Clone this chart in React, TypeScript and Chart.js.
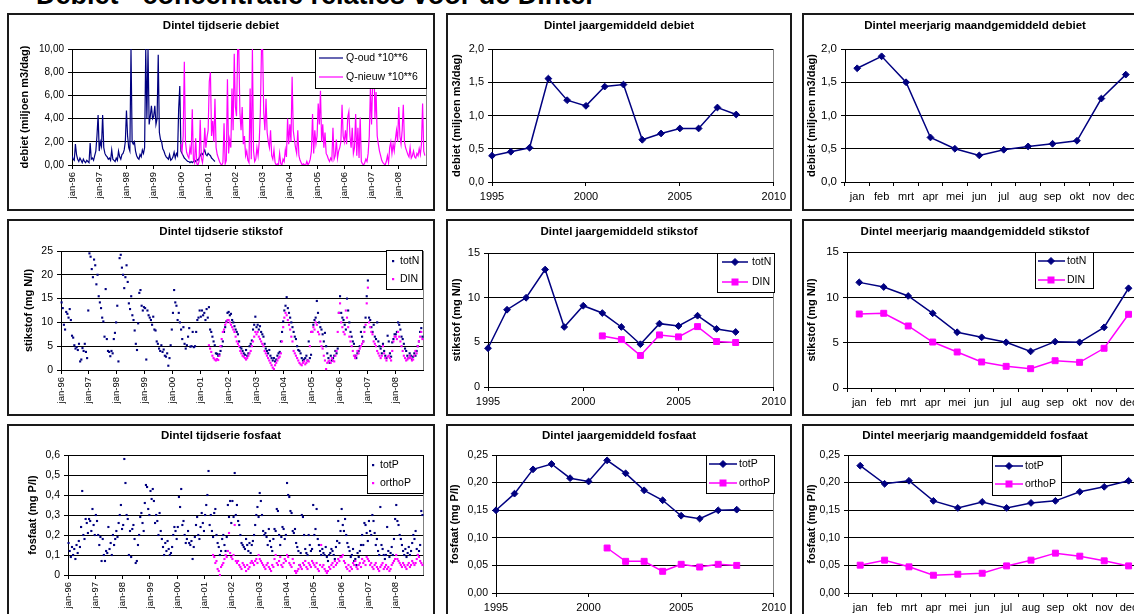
import React, { useEffect, useRef } from 'react';
import { Chart, registerables } from 'chart.js';

Chart.register(...registerables);

const FONT = '"Liberation Sans", Arial, Helvetica, sans-serif';
const NAVY = '#000080';
const MAGENTA = '#FF00FF';
Chart.defaults.font.family = FONT;
Chart.defaults.color = '#000';

// ---------------- categories / tick labels ----------------
const monthLabels = ['jan', 'feb', 'mrt', 'apr', 'mei', 'jun', 'jul', 'aug', 'sep', 'okt', 'nov', 'dec'];
const meanYears = [1995, 1996, 1997, 1998, 1999, 2000, 2001, 2002, 2003, 2004, 2005, 2006, 2007, 2008];

// ---------------- yearly means ----------------
const debietJaar = [0.395, 0.455, 0.515, 1.555, 1.23, 1.145, 1.435, 1.465, 0.635, 0.73, 0.805, 0.805, 1.12, 1.015];
const totNJaar = [4.34, 8.65, 9.99, 13.15, 6.72, 9.1, 8.28, 6.72, 4.79, 7.09, 6.83, 7.98, 6.5, 6.16];
const dinJaar = [null, null, null, null, null, null, 5.72, 5.31, 3.53, 5.83, 5.61, 6.76, 5.09, 4.98];
const totPJaar = [0.1498, 0.18, 0.224, 0.2337, 0.208, 0.202, 0.2403, 0.2168, 0.186, 0.168, 0.14, 0.1347, 0.1498, 0.151];
const orthoPJaar = [null, null, null, null, null, null, 0.0815, 0.0574, 0.0574, 0.0393, 0.052, 0.047, 0.052, 0.05];

// ---------------- multi-year monthly means ----------------
const debietMaand = [1.71, 1.89, 1.5, 0.67, 0.5, 0.4, 0.485, 0.535, 0.575, 0.62, 1.255, 1.615];
const totNMaand = [11.65, 11.14, 10.15, 8.24, 6.15, 5.59, 5.04, 4.04, 5.11, 5.04, 6.69, 11.0];
const dinMaand = [8.16, 8.24, 6.84, 5.07, 3.97, 2.87, 2.39, 2.13, 3.01, 2.83, 4.38, 8.13];
const totPMaand = [0.2306, 0.1978, 0.2033, 0.1669, 0.1541, 0.165, 0.1541, 0.1632, 0.1669, 0.1833, 0.1924, 0.2033];
const orthoPMaand = [0.0504, 0.0595, 0.0474, 0.0322, 0.034, 0.0358, 0.0491, 0.0595, 0.0722, 0.0667, 0.0583, 0.0491];

// ---------------- debiet time series (half-monthly readings, 10^6 m3/dag) ----------------
const qOud1996 = [0.8, 0.5, 0.4, 1.8, 0.9, 0.5, 0.3, 0.6, 0.4, 0.2, 0.5, 0.3, 0.2, 0.4, 0.3, 0.2, 1.9, 0.5, 0.6, 0.4, 0.8, 1.2, 2.5, 4.3];
const qOud1997 = [1.2, 2.0, 1.6, 4.3, 1.5, 1.0, 0.8, 0.7, 0.5, 0.6, 0.4, 1.3, 0.5, 0.4, 0.3, 0.6, 0.4, 1.2, 0.7, 0.5, 0.9, 1.0, 1.3, 2.0];
const qOud1998 = [4.7, 2.5, 1.5, 1.2, 10.0, 2.0, 1.8, 2.0, 1.2, 0.8, 0.6, 0.5, 0.9, 0.7, 1.3, 1.0, 1.5, 10.0, 4.0, 10.0, 3.5, 4.2, 5.1, 4.0];
const qOud1999 = [4.2, 5.1, 3.5, 4.0, 9.5, 2.8, 2.2, 2.0, 1.4, 1.2, 0.9, 0.7, 0.6, 0.5, 0.9, 0.4, 0.5, 0.7, 1.1, 0.6, 1.0, 0.8, 4.8, 6.8];
const qOud2000 = [1.2, 1.0, 0.8, 0.6, 0.5, 0.4, 0.3, 0.3, 0.2, 0.3, 0.2, 0.3, 0.4, 0.3, 0.5, 0.4, 0.6, 0.8, 1.0, 0.9, 1.1, 1.3, 0.9, 0.8];
const qOud2001 = [1.0, 0.9, 0.8, 0.6, 0.5, 0.4, 0.3];
const qNieuw2000 = [1.8, 1.2, 2.5, 8.9, 2.0, 1.1, 0.8, 0.6, 1.5, 0.9, 4.8, 0.5, 0.2, 2.3, 0.1, 0.0, 0.3, 3.9, 0.6, 0.2, 1.0, 3.2, 1.5, 2.4];
const qNieuw2001 = [3.0, 7.2, 8.0, 2.5, 3.8, 2.0, 5.7, 1.5, 0.9, 0.6, 0.3, 0.1, 0.0, 0.2, 3.6, 0.1, 0.4, 7.4, 1.0, 2.2, 1.5, 6.6, 3.0, 9.6];
const qNieuw2002 = [5.0, 4.2, 10.0, 10.0, 4.5, 3.0, 5.0, 1.8, 2.5, 0.8, 1.2, 0.4, 0.2, 6.6, 0.5, 10.0, 1.2, 0.3, 0.5, 1.5, 0.8, 2.0, 4.5, 10.0];
const qNieuw2003 = [10.0, 4.5, 3.0, 5.7, 2.8, 2.0, 1.5, 3.0, 0.8, 0.5, 1.3, 0.2, 0.0, 0.1, 0.0, 1.0, 0.1, 0.0, 0.5, 0.3, 1.3, 0.7, 4.0, 1.8];
const qNieuw2004 = [3.5, 2.0, 7.6, 3.0, 2.2, 1.5, 1.0, 3.0, 0.8, 0.4, 0.2, 0.0, 0.1, 0.0, 0.0, 0.3, 0.0, 0.2, 0.5, 1.2, 4.4, 1.0, 3.0, 1.8];
const qNieuw2005 = [2.5, 5.3, 3.5, 6.4, 2.0, 3.5, 1.5, 2.8, 1.0, 0.8, 0.5, 0.3, 0.6, 0.4, 3.2, 0.5, 0.8, 2.2, 0.6, 1.2, 1.5, 2.0, 5.2, 2.5];
const qNieuw2006 = [2.0, 3.0, 1.8, 4.1, 4.6, 2.5, 1.5, 3.2, 1.0, 1.5, 4.4, 0.8, 3.2, 0.6, 4.1, 0.3, 0.1, 0.0, 0.2, 0.5, 0.3, 1.0, 2.5, 6.6];
const qNieuw2007 = [3.5, 7.2, 10.0, 4.0, 6.3, 2.5, 1.8, 1.2, 0.8, 0.4, 0.2, 0.1, 0.0, 0.3, 0.8, 0.2, 1.5, 2.0, 1.0, 1.8, 1.2, 2.2, 3.0, 2.0];
const qNieuw2008 = [5.0, 2.5, 1.8, 3.0, 5.2, 2.0, 1.5, 1.2, 0.9, 0.7, 1.5, 0.6, 0.8, 1.2, 0.7, 0.6, 1.0, 0.8, 1.4, 0.9, 1.8, 5.3, 1.2, 0.8];

// ---------------- stikstof time series (mg N/l) ----------------
const totN1996 = [14.2, 13, 9.5, 8.5, 12.2, 11.8, 11, 12.8, 10.5, 7.2, 6.8, 5.2, 4.5, 4.8, 4.2, 5.5, 1.8, 2.2, 4.6, 4.0, 5.5, 3.8, 2.5, 12.5];
const totN1997 = [24.5, 23.8, 21.2, 19.5, 23.2, 22, 18, 20, 15.5, 14.2, 13, 11, 10.2, 7, 17, 6.5, 4, 3.8, 2.9, 4, 3.5, 6.5, 7.8, 10];
const totN1998 = [13.5, 1.8, 23.5, 24.2, 21.5, 20, 17.2, 19.5, 22, 18.5, 14, 12.8, 15.5, 11.5, 10.5, 8.3, 5.5, 4.2, 9.8, 16.2, 16.8, 13.5, 12.5, 13.2];
const totN1999 = [13, 2.2, 12.5, 11.5, 11, 10.5, 9.5, 11.2, 8.5, 8.3, 6, 5.5, 4.5, 4, 5.2, 3.8, 4.3, 3, 2.8, 3.5, 0.9, 2.5, 5.2, 8.5];
const totN2000 = [12, 16.8, 14.2, 13.5, 10.5, 12, 10, 8.5, 6.5, 9, 5.5, 4.5, 5.2, 7, 8.8, 4.9, 5, 8, 4.8, 5, 8, 10.5, 11, 12.5];
const totN2001 = [11.2, 12.5, 11.5, 12, 10.5, 12.8, 11, 13.2, 8.5, 8, 7, 6, 5.2, 3.5, 3.4, 3, 3.3, 4, 5, 6, 8, 9, 10.2, 12];
const totN2002 = [12.2, 11.5, 11.8, 10.5, 10, 9.2, 8.5, 8, 7.5, 6, 4.8, 4.5, 4, 3.5, 3.2, 4.2, 3, 3.5, 5, 5.5, 6.2, 8.5, 9.5, 11.2];
const totN2003 = [9, 9.5, 8.5, 9.2, 8, 7.5, 7, 5.5, 4.5, 4, 3.5, 4.2, 3, 2.5, 2, 2.5, 1.8, 2.2, 3, 3.5, 3.8, 6, 8, 10.2];
const totN2004 = [12.5, 13.5, 15.3, 13, 12, 11, 10, 9, 8, 7, 6.5, 5, 4.2, 4, 3.5, 2.5, 2, 2.2, 2.5, 3, 2, 6, 2.5, 3.2];
const totN2005 = [8, 9.5, 10.5, 11, 14.5, 12, 10, 9, 8.5, 7.5, 6, 7.8, 5, 3.5, 2.5, 1.5, 3, 2, 2.5, 3, 4, 3.5, 4.5, 12];
const totN2006 = [15.5, 12, 11, 10.5, 9.5, 8.5, 15, 12.5, 10, 8, 7, 6, 5.5, 3, 2.5, 3.5, 4, 5, 8, 7, 6, 9, 11, 15.5];
const totN2007 = [18.8, 11, 10.5, 9, 8, 9.5, 7, 6.5, 10, 6, 5, 4.5, 3.5, 5.5, 4, 3, 2.5, 7.2, 6, 3.5, 2.8, 5.8, 6.5, 7.5];
const totN2008 = [7.5, 8, 10, 9.5, 8.5, 7, 6.5, 5.5, 4.5, 4, 3, 2.5, 3.5, 3, 2.2, 2.8, 3.5, 3, 4, 5, 6, 8, 8.8, 7];
const din2001 = [null, null, null, null, null, null, null, 5.2, 4.5, 3.8, 3, 2.5, 2.2, 2, 2.3, 2.1, 3, 5, 6.5, 8, 8.5, 9.5, 10, 10.5];
const din2002 = [10.5, 10, 9.5, 9, 8.5, 8, 7, 6, 5.5, 5, 4, 3.5, 3, 2.8, 2.5, 2.2, 2.5, 3, 3.5, 4, 5, 6, 7, 8];
const din2003 = [7.5, 8, 7, 6.5, 6, 5.5, 5, 4, 3.5, 3, 2.5, 2, 1.5, 1, 0.5, 0.2, 1, 1.5, 2, 2.5, 2.8, 3.5, 6, 9];
const din2004 = [11, 12, 11.5, 10.5, 9.5, 8.5, 7, 6, 4, 3.5, 3, 2.5, 2, 1.5, 1.2, 1, 1.5, 1.8, 1.2, 1.5, 2, 1.8, 5, 8];
const din2005 = [8, 9, 8.5, 10, 9.5, 8, 7.5, 6, 5, 4.5, 3, 2, 0.2, 1.5, 1.8, 2, 1.5, 2.5, 2, 1.8, 3, 4, 8, 12];
const din2006 = [14, 10, 9, 8, 7.5, 12.5, 11, 9, 7, 6, 5, 4, 3, 2.5, 3, 4, 3.5, 4.5, 5, 5.5, 6, 8, 9.5, 14];
const din2007 = [17.3, 10, 9, 8, 7.5, 6, 5.5, 5, 4, 3.5, 3, 2.5, 3, 5, 3.5, 2.5, 2, 2.8, 3, 2.5, 2, 4, 6, 7];
const din2008 = [7, 6.5, 8, 7, 6, 5, 4, 3, 2.5, 2, 2.2, 2.5, 3, 2.5, 2, 2.2, 3, 4, 3.5, 5, 6, 7, 8, 6.5];

// ---------------- fosfaat time series (mg P/l) ----------------
const totP1996 = [0.16, 0.12, 0.09, 0.14, 0.1, 0.13, 0.08, 0.15, 0.11, 0.17, 0.14, 0.24, 0.42, 0.2, 0.18, 0.28, 0.26, 0.21, 0.28, 0.27, 0.22, 0.33, 0.25, 0.2];
const totP1997 = [0.3, 0.27, 0.2, 0.15, 0.19, 0.07, 0.18, 0.1, 0.07, 0.12, 0.11, 0.24, 0.13, 0.16, 0.1, 0.2, 0.15, 0.18, 0.22, 0.19, 0.26, 0.3, 0.35, 0.23];
const totP1998 = [0.25, 0.58, 0.46, 0.3, 0.28, 0.1, 0.22, 0.09, 0.23, 0.25, 0.18, 0.06, 0.07, 0.15, 0.2, 0.29, 0.31, 0.26, 0.22, 0.36, 0.45, 0.44, 0.33, 0.3];
const totP1999 = [0.42, 0.38, 0.43, 0.37, 0.26, 0.3, 0.27, 0.2, 0.31, 0.22, 0.18, 0.14, 0.1, 0.16, 0.12, 0.17, 0.13, 0.1, 0.11, 0.14, 0.2, 0.24, 0.22, 0.18];
const totP2000 = [0.24, 0.39, 0.34, 0.43, 0.25, 0.27, 0.2, 0.16, 0.18, 0.22, 0.16, 0.15, 0.17, 0.08, 0.14, 0.19, 0.25, 0.29, 0.2, 0.18, 0.24, 0.31, 0.26, 0.22];
const totP2001 = [0.3, 0.35, 0.4, 0.52, 0.25, 0.3, 0.22, 0.19, 0.31, 0.33, 0.2, 0.16, 0.14, 0.1, 0.12, 0.18, 0.2, 0.15, 0.12, 0.19, 0.35, 0.29, 0.37, 0.26];
const totP2002 = [0.37, 0.29, 0.51, 0.3, 0.35, 0.27, 0.25, 0.2, 0.16, 0.15, 0.14, 0.13, 0.18, 0.15, 0.12, 0.16, 0.11, 0.15, 0.17, 0.2, 0.25, 0.3, 0.34, 0.29];
const totP2003 = [0.41, 0.37, 0.3, 0.22, 0.2, 0.21, 0.19, 0.15, 0.23, 0.17, 0.14, 0.12, 0.18, 0.23, 0.22, 0.33, 0.32, 0.2, 0.15, 0.19, 0.24, 0.23, 0.18, 0.2];
const totP2004 = [0.46, 0.4, 0.39, 0.32, 0.31, 0.22, 0.21, 0.23, 0.16, 0.14, 0.12, 0.05, 0.11, 0.3, 0.29, 0.2, 0.13, 0.11, 0.1, 0.2, 0.15, 0.12, 0.13, 0.35];
const totP2005 = [0.2, 0.23, 0.33, 0.18, 0.15, 0.12, 0.1, 0.13, 0.11, 0.1, 0.14, 0.09, 0.07, 0.1, 0.11, 0.13, 0.12, 0.1, 0.08, 0.14, 0.17, 0.27, 0.16, 0.22];
const totP2006 = [0.33, 0.25, 0.22, 0.28, 0.2, 0.16, 0.14, 0.12, 0.09, 0.1, 0.13, 0.07, 0.08, 0.05, 0.11, 0.09, 0.12, 0.15, 0.2, 0.15, 0.26, 0.25, 0.21, 0.17];
const totP2007 = [0.27, 0.22, 0.2, 0.3, 0.27, 0.21, 0.15, 0.18, 0.12, 0.1, 0.34, 0.15, 0.13, 0.1, 0.08, 0.1, 0.24, 0.12, 0.09, 0.11, 0.14, 0.1, 0.18, 0.28];
const totP2008 = [0.35, 0.27, 0.25, 0.2, 0.18, 0.15, 0.12, 0.1, 0.13, 0.09, 0.11, 0.14, 0.1, 0.12, 0.16, 0.2, 0.18, 0.22, 0.13, 0.1, 0.12, 0.15, 0.32, 0.3];
const orthoP2001 = [null, null, null, null, null, null, null, 0.1, 0.09, 0.06, 0.07, 0.03, 0.02, 0.0, 0.04, 0.05, 0.06, 0.08, 0.1, 0.09, 0.12, 0.21, 0.11, 0.09];
const orthoP2002 = [0.08, 0.1, 0.25, 0.07, 0.06, 0.07, 0.05, 0.04, 0.03, 0.06, 0.05, 0.04, 0.02, 0.05, 0.03, 0.04, 0.06, 0.07, 0.06, 0.05, 0.07, 0.08, 0.06, 0.1];
const orthoP2003 = [0.08, 0.07, 0.06, 0.05, 0.04, 0.03, 0.05, 0.06, 0.04, 0.03, 0.02, 0.05, 0.04, 0.08, 0.1, 0.06, 0.05, 0.07, 0.09, 0.05, 0.04, 0.06, 0.08, 0.07];
const orthoP2004 = [0.1, 0.09, 0.06, 0.05, 0.04, 0.08, 0.06, 0.02, 0.01, 0.02, 0.03, 0.05, 0.04, 0.03, 0.06, 0.05, 0.07, 0.04, 0.03, 0.06, 0.05, 0.04, 0.07, 0.06];
const orthoP2005 = [0.05, 0.04, 0.06, 0.03, 0.02, 0.05, 0.15, 0.04, 0.05, 0.03, 0.02, 0.01, 0.02, 0.04, 0.03, 0.05, 0.06, 0.04, 0.07, 0.05, 0.06, 0.08, 0.07, 0.09];
const orthoP2006 = [0.09, 0.1, 0.07, 0.06, 0.04, 0.03, 0.05, 0.02, 0.04, 0.03, 0.06, 0.05, 0.07, 0.04, 0.03, 0.05, 0.06, 0.04, 0.08, 0.06, 0.07, 0.05, 0.09, 0.08];
const orthoP2007 = [0.07, 0.05, 0.06, 0.04, 0.03, 0.05, 0.06, 0.04, 0.03, 0.02, 0.04, 0.05, 0.06, 0.03, 0.04, 0.05, 0.03, 0.04, 0.02, 0.03, 0.05, 0.06, 0.07, 0.08];
const orthoP2008 = [0.1, 0.08, 0.07, 0.06, 0.05, 0.04, 0.06, 0.05, 0.04, 0.03, 0.05, 0.06, 0.04, 0.05, 0.07, 0.06, 0.05, 0.06, 0.08, 0.1, 0.09, 0.07, 0.06, 0.05];

// ---------------- helpers ----------------
type Pt = { x: number; y: number };
function seriesFromYears(firstYear: number, yearsData: (number | null)[][], centre: number): Pt[] {
  const pts: Pt[] = [];
  yearsData.forEach((vals, k) => {
    vals.forEach((v, i) => {
      if (v !== null && v !== undefined) pts.push({ x: firstYear + k + (i + centre) / 24, y: v });
    });
  });
  return pts;
}
function yearPts(vals: (number | null)[]): Pt[] {
  const pts: Pt[] = [];
  meanYears.forEach((yr, i) => {
    const v = vals[i];
    if (v !== null && v !== undefined) pts.push({ x: yr, y: v });
  });
  return pts;
}

const fmt2 = (v: number) => v.toFixed(2).replace('.', ',');
const fmt1 = (v: number) => v.toFixed(1).replace('.', ',');
const fmt0 = (v: number) => String(Math.round(v));
const fmtP = (v: number) => (Math.abs(v) < 1e-9 ? '0' : v.toFixed(1).replace('.', ','));

// ---------------- plugins ----------------
const plotFrame = {
  id: 'plotFrame',
  beforeDatasetsDraw(chart: any) {
    const { ctx, chartArea: a } = chart;
    ctx.save();
    ctx.strokeStyle = '#808080';
    ctx.lineWidth = 1;
    const r = Math.floor(a.right) + 0.5;
    ctx.beginPath();
    ctx.moveTo(r, a.top);
    ctx.lineTo(r, a.bottom);
    ctx.stroke();
    ctx.restore();
  },
};

type LegendSpec = {
  box: number[];
  lineX?: number[];
  markerX?: number;
  textX: number;
  rows: number[];
  markers: string[];
} | null;

function makeLegend(spec: LegendSpec) {
  return {
    id: 'boxLegend',
    afterDatasetsDraw(chart: any) {
      if (!spec) return;
      const ctx = chart.ctx;
      const [x1, y1, x2, y2] = spec.box;
      ctx.save();
      ctx.fillStyle = '#fff';
      ctx.fillRect(x1, y1, x2 - x1, y2 - y1);
      ctx.strokeStyle = '#000';
      ctx.lineWidth = 1;
      ctx.strokeRect(x1 + 0.5, y1 + 0.5, x2 - x1, y2 - y1);
      ctx.font = `10.5px ${FONT}`;
      ctx.textBaseline = 'middle';
      ctx.textAlign = 'left';
      chart.data.datasets.forEach((ds: any, i: number) => {
        const y = spec.rows[i];
        const c = ds.borderColor || ds.backgroundColor;
        if (spec.lineX) {
          ctx.strokeStyle = c;
          ctx.lineWidth = ds.borderWidth || 1;
          ctx.beginPath();
          ctx.moveTo(spec.lineX[0], y);
          ctx.lineTo(spec.lineX[1], y);
          ctx.stroke();
        }
        const m = spec.markers[i];
        const mx = spec.markerX || 0;
        ctx.fillStyle = c;
        ctx.strokeStyle = c;
        ctx.lineWidth = 1;
        if (m === 'diamond') {
          const r = 3.5;
          ctx.beginPath();
          ctx.moveTo(mx - r, y);
          ctx.lineTo(mx, y - r);
          ctx.lineTo(mx + r, y);
          ctx.lineTo(mx, y + r);
          ctx.closePath();
          ctx.fill();
          ctx.stroke();
        } else if (m === 'square') {
          ctx.fillRect(mx - 3.5, y - 3.5, 7, 7);
        } else if (m === 'dot') {
          ctx.fillRect(mx - 1, y - 1, 2.2, 2.2);
        }
        ctx.fillStyle = '#000';
        ctx.fillText(ds.label, spec.textX, y);
      });
      ctx.restore();
    },
  };
}

// ---------------- config builder ----------------
type Geo = { W: number; H: number; L: number; T: number; R: number; B: number; titleY: number; yTitleX: number };

function frameConfig(g: Geo, o: any) {
  const data: any = { datasets: o.datasets };
  if (o.labels) data.labels = o.labels;
  return {
    type: 'line',
    data,
    options: {
      responsive: false,
      maintainAspectRatio: false,
      animation: false,
      devicePixelRatio: 1,
      events: [],
      layout: { padding: 0 },
      plugins: {
        legend: { display: false },
        tooltip: { enabled: false },
        title: {
          display: true,
          text: o.title,
          color: '#000',
          font: { family: FONT, size: 11.5, weight: 'bold', lineHeight: 1.2 },
          padding: { top: g.titleY - 6.9, bottom: g.T - g.titleY - 6.9 },
        },
      },
      scales: {
        x: { ...o.x, afterFit: (s: any) => { s.height = g.H - g.B; } },
        y: {
          type: 'linear',
          position: 'left',
          min: o.yMin,
          max: o.yMax,
          afterFit: (s: any) => { s.width = g.L; },
          ticks: {
            stepSize: o.yStep,
            callback: (v: any) => o.yFmt(Number(v)),
            font: { family: FONT, size: o.yFont },
            color: '#000',
            padding: 4,
          },
          grid: { color: '#000', lineWidth: 1, drawTicks: true, tickLength: 4 },
          border: { display: true, color: '#000', width: 1 },
          title: {
            display: true,
            text: o.yTitle,
            color: '#000',
            font: { family: FONT, size: 11, weight: 'bold', lineHeight: 1.2 },
            padding: { top: g.yTitleX - 6.6, bottom: 0 },
          },
        },
        yPad: {
          type: 'linear',
          position: 'right',
          display: true,
          afterFit: (s: any) => { s.width = g.W - g.R; },
          grid: { display: false },
          ticks: { display: false },
          border: { display: false },
        },
      },
    },
    plugins: [plotFrame, makeLegend(o.legend)],
  };
}

const timeAxis = {
  type: 'linear',
  position: 'bottom',
  min: 1996,
  max: 2009,
  afterBuildTicks: (s: any) => { s.ticks = s.ticks.filter((t: any) => t.value < 2008.5); },
  ticks: {
    stepSize: 1,
    autoSkip: false,
    maxRotation: 90,
    minRotation: 90,
    padding: 3,
    color: '#000',
    font: { family: FONT, size: 9.5 },
    callback: (v: any) => 'jan-' + String(Math.round(Number(v)) % 100).padStart(2, '0'),
  },
  grid: { drawOnChartArea: false, drawTicks: true, tickLength: 4, color: '#000' },
  border: { display: true, color: '#000', width: 1 },
};

const yearAxis = {
  type: 'linear',
  position: 'bottom',
  min: 1995,
  max: 2010,
  ticks: {
    stepSize: 5,
    autoSkip: false,
    maxRotation: 0,
    padding: 4,
    color: '#000',
    font: { family: FONT, size: 11 },
    callback: (v: any) => String(v),
  },
  grid: { drawOnChartArea: false, drawTicks: true, tickLength: 4, color: '#000' },
  border: { display: true, color: '#000', width: 1 },
};

const monthAxis = {
  type: 'category',
  position: 'bottom',
  offset: true,
  ticks: { autoSkip: false, maxRotation: 0, padding: 4, color: '#000', font: { family: FONT, size: 11 } },
  grid: { offset: true, drawOnChartArea: false, drawTicks: true, tickLength: 4, color: '#000' },
  border: { display: true, color: '#000', width: 1 },
};

function lineDs(label: string, data: any[], color: string, style: 'diamond' | 'square', order: number) {
  return {
    label,
    data,
    borderColor: color,
    backgroundColor: color,
    borderWidth: 1.5,
    pointStyle: style === 'diamond' ? 'rectRot' : 'rect',
    pointRadius: style === 'diamond' ? 3.4 : 4.2,
    pointBorderWidth: 1,
    pointBackgroundColor: color,
    pointBorderColor: color,
    tension: 0,
    clip: false,
    order,
  };
}
function dotDs(label: string, data: Pt[], color: string, order: number) {
  return {
    label,
    data,
    showLine: false,
    borderColor: color,
    backgroundColor: color,
    pointStyle: 'rect',
    pointRadius: 1.5,
    pointBorderWidth: 0,
    clip: false,
    order,
  };
}

// ---------------- panels ----------------
type PanelSpec = { id: string; box: number[]; geo: Geo; make: (g: Geo) => any };

const panels: PanelSpec[] = [
  {
    id: 'p1',
    box: [7, 13, 428, 198],
    geo: { W: 424, H: 194, L: 63, T: 34, R: 417, B: 150, titleY: 11, yTitleX: 16 },
    make: (g) =>
      frameConfig(g, {
        title: 'Dintel tijdserie debiet',
        yTitle: 'debiet (miljoen m3/dag)',
        yMin: 0, yMax: 10, yStep: 2, yFmt: fmt2, yFont: 10,
        x: timeAxis,
        datasets: [
          { label: 'Q-oud *10**6', data: seriesFromYears(1996, [qOud1996, qOud1997, qOud1998, qOud1999, qOud2000, qOud2001], 0), borderColor: NAVY, backgroundColor: NAVY, borderWidth: 1.2, pointRadius: 0, tension: 0, order: 2 },
          { label: 'Q-nieuw *10**6', data: seriesFromYears(2000, [qNieuw2000, qNieuw2001, qNieuw2002, qNieuw2003, qNieuw2004, qNieuw2005, qNieuw2006, qNieuw2007, qNieuw2008], 0), borderColor: MAGENTA, backgroundColor: MAGENTA, borderWidth: 1.2, pointRadius: 0, tension: 0, order: 1 },
        ],
        legend: { box: [306, 34, 417, 73], lineX: [310, 334], textX: 337, rows: [43, 62], markers: ['', ''] },
      }),
  },
  {
    id: 'p2',
    box: [446, 13, 346, 198],
    geo: { W: 342, H: 194, L: 44, T: 34, R: 327, B: 167, titleY: 11, yTitleX: 9 },
    make: (g) =>
      frameConfig(g, {
        title: 'Dintel jaargemiddeld debiet',
        yTitle: 'debiet (miljoen m3/dag)',
        yMin: 0, yMax: 2, yStep: 0.5, yFmt: fmt1, yFont: 11,
        x: yearAxis,
        datasets: [lineDs('debiet', yearPts(debietJaar), NAVY, 'diamond', 1)],
        legend: null,
      }),
  },
  {
    id: 'p3',
    box: [802, 13, 346, 198],
    geo: { W: 342, H: 194, L: 41, T: 34, R: 334, B: 167, titleY: 11, yTitleX: 8 },
    make: (g) =>
      frameConfig(g, {
        title: 'Dintel meerjarig maandgemiddeld debiet',
        yTitle: 'debiet (miljoen m3/dag)',
        yMin: 0, yMax: 2, yStep: 0.5, yFmt: fmt1, yFont: 11.5,
        x: monthAxis,
        labels: monthLabels,
        datasets: [lineDs('debiet', debietMaand, NAVY, 'diamond', 1)],
        legend: null,
      }),
  },
  {
    id: 'p4',
    box: [7, 219, 428, 197],
    geo: { W: 424, H: 193, L: 52, T: 30, R: 414, B: 149, titleY: 11, yTitleX: 20 },
    make: (g) =>
      frameConfig(g, {
        title: 'Dintel tijdserie stikstof',
        yTitle: 'stikstof (mg N/l)',
        yMin: 0, yMax: 25, yStep: 5, yFmt: fmt0, yFont: 10.5,
        x: timeAxis,
        datasets: [
          dotDs('totN', seriesFromYears(1996, [totN1996, totN1997, totN1998, totN1999, totN2000, totN2001, totN2002, totN2003, totN2004, totN2005, totN2006, totN2007, totN2008], 0.5), NAVY, 2),
          dotDs('DIN', seriesFromYears(2001, [din2001, din2002, din2003, din2004, din2005, din2006, din2007, din2008], 0.5), MAGENTA, 1),
        ],
        legend: { box: [377, 29, 413, 68], markerX: 384, textX: 391, rows: [40, 58], markers: ['dot', 'dot'] },
      }),
  },
  {
    id: 'p5',
    box: [446, 219, 346, 197],
    geo: { W: 342, H: 193, L: 40, T: 32, R: 327, B: 166, titleY: 11, yTitleX: 9 },
    make: (g) =>
      frameConfig(g, {
        title: 'Dintel jaargemiddeld stikstof',
        yTitle: 'stikstof (mg N/l)',
        yMin: 0, yMax: 15, yStep: 5, yFmt: fmt0, yFont: 11,
        x: yearAxis,
        datasets: [lineDs('totN', yearPts(totNJaar), NAVY, 'diamond', 1), lineDs('DIN', yearPts(dinJaar), MAGENTA, 'square', 2)],
        legend: { box: [269, 32, 326, 71], lineX: [274, 300], markerX: 287, textX: 304, rows: [41, 61], markers: ['diamond', 'square'] },
      }),
  },
  {
    id: 'p6',
    box: [802, 219, 346, 197],
    geo: { W: 342, H: 193, L: 43, T: 31, R: 337, B: 167, titleY: 11, yTitleX: 8 },
    make: (g) =>
      frameConfig(g, {
        title: 'Dintel meerjarig maandgemiddeld stikstof',
        yTitle: 'stikstof (mg N/l)',
        yMin: 0, yMax: 15, yStep: 5, yFmt: fmt0, yFont: 11.5,
        x: monthAxis,
        labels: monthLabels,
        datasets: [lineDs('totN', totNMaand, NAVY, 'diamond', 1), lineDs('DIN', dinMaand, MAGENTA, 'square', 2)],
        legend: { box: [231, 31, 289, 67], lineX: [234, 261], markerX: 247, textX: 263, rows: [40, 59], markers: ['diamond', 'square'] },
      }),
  },
  {
    id: 'p7',
    box: [7, 424, 428, 200],
    geo: { W: 424, H: 196, L: 59, T: 29, R: 414, B: 149, titleY: 10, yTitleX: 24 },
    make: (g) =>
      frameConfig(g, {
        title: 'Dintel tijdserie fosfaat',
        yTitle: 'fosfaat (mg P/l)',
        yMin: 0, yMax: 0.6, yStep: 0.1, yFmt: fmtP, yFont: 10.5,
        x: timeAxis,
        datasets: [
          dotDs('totP', seriesFromYears(1996, [totP1996, totP1997, totP1998, totP1999, totP2000, totP2001, totP2002, totP2003, totP2004, totP2005, totP2006, totP2007, totP2008], 0.5), NAVY, 2),
          dotDs('orthoP', seriesFromYears(2001, [orthoP2001, orthoP2002, orthoP2003, orthoP2004, orthoP2005, orthoP2006, orthoP2007, orthoP2008], 0.5), MAGENTA, 1),
        ],
        legend: { box: [358, 29, 414, 67], markerX: 364, textX: 371, rows: [39, 57], markers: ['dot', 'dot'] },
      }),
  },
  {
    id: 'p8',
    box: [446, 424, 346, 200],
    geo: { W: 342, H: 196, L: 48, T: 29, R: 327, B: 167, titleY: 10, yTitleX: 7 },
    make: (g) =>
      frameConfig(g, {
        title: 'Dintel jaargemiddeld fosfaat',
        yTitle: 'fosfaat (mg P/l)',
        yMin: 0, yMax: 0.25, yStep: 0.05, yFmt: fmt2, yFont: 10.5,
        x: yearAxis,
        datasets: [lineDs('totP', yearPts(totPJaar), NAVY, 'diamond', 1), lineDs('orthoP', yearPts(orthoPJaar), MAGENTA, 'square', 2)],
        legend: { box: [258, 29, 326, 67], lineX: [261, 289], markerX: 275, textX: 291, rows: [38, 57], markers: ['diamond', 'square'] },
      }),
  },
  {
    id: 'p9',
    box: [802, 424, 346, 200],
    geo: { W: 342, H: 196, L: 44, T: 29, R: 337, B: 167, titleY: 10, yTitleX: 8 },
    make: (g) =>
      frameConfig(g, {
        title: 'Dintel meerjarig maandgemiddeld fosfaat',
        yTitle: 'fosfaat (mg P/l)',
        yMin: 0, yMax: 0.25, yStep: 0.05, yFmt: fmt2, yFont: 10.5,
        x: monthAxis,
        labels: monthLabels,
        datasets: [lineDs('totP', totPMaand, NAVY, 'diamond', 1), lineDs('orthoP', orthoPMaand, MAGENTA, 'square', 2)],
        legend: { box: [188, 30, 257, 69], lineX: [191, 219], markerX: 205, textX: 221, rows: [40, 58], markers: ['diamond', 'square'] },
      }),
  },
];

function Panel({ spec }: { spec: PanelSpec }) {
  const ref = useRef<HTMLCanvasElement | null>(null);
  const [left, top, w, h] = spec.box;
  useEffect(() => {
    if (!ref.current) return;
    const chart = new Chart(ref.current, spec.make(spec.geo) as any);
    return () => chart.destroy();
  }, []);
  return (
    <div
      style={{
        position: 'absolute',
        left,
        top,
        width: w,
        height: h,
        border: '2px solid #1a1a1a',
        boxSizing: 'border-box',
        background: '#fff',
      }}
    >
      <canvas ref={ref} width={w - 4} height={h - 4} style={{ display: 'block', width: w - 4, height: h - 4 }} />
    </div>
  );
}

export default function App() {
  return (
    <div
      style={{
        position: 'fixed',
        left: 0,
        top: 0,
        width: 1134,
        height: 614,
        overflow: 'hidden',
        background: '#fff',
      }}
    >
      <div
        style={{
          position: 'absolute',
          left: 36,
          top: -18,
          fontFamily: FONT,
          fontWeight: 'bold',
          fontSize: 27,
          lineHeight: '26px',
          whiteSpace: 'nowrap',
          color: '#000',
        }}
      >
        Debiet - concentratie relaties voor de Dintel
      </div>
      {panels.map((p) => (
        <Panel key={p.id} spec={p} />
      ))}
    </div>
  );
}
